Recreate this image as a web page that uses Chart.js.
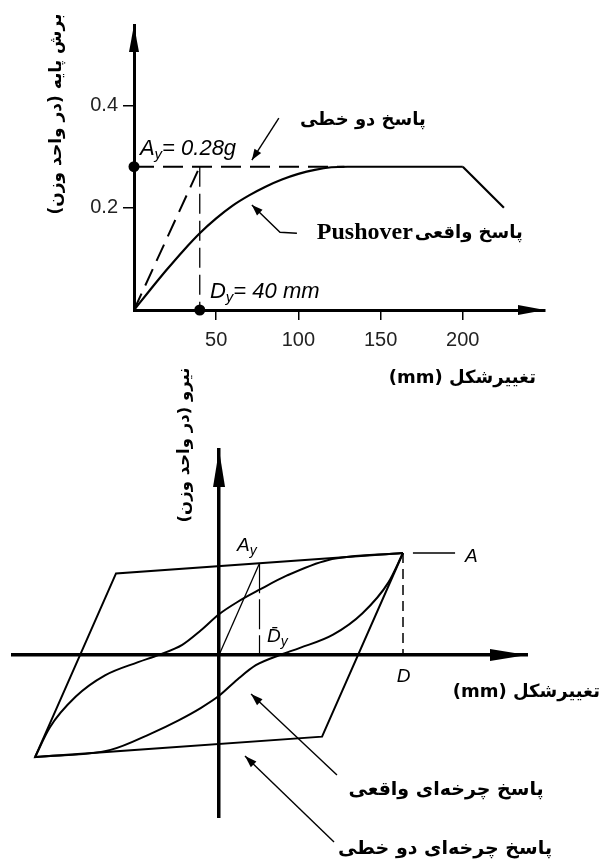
<!DOCTYPE html>
<html>
<head>
<meta charset="utf-8">
<script src="https://cdn.jsdelivr.net/npm/chart.js@4.4.1/dist/chart.umd.min.js"></script>
<style>
  html, body { margin: 0; padding: 0; background: #fff; }
  #wrap { position: relative; width: 603px; height: 862px; overflow: hidden; }
  canvas { position: absolute; left: 0; }
  #pushChart { top: 0; }
  #cycleChart { top: 350px; }
</style>
</head>
<body>
<div id="wrap">
  <canvas id="pushChart" width="603" height="400"></canvas>
  <canvas id="cycleChart" width="603" height="512"></canvas>
</div>
<script>
// ---- top chart: pushover curve (mm vs base shear / weight) ----
const pushDisp  = [0, 10, 20, 30, 40, 50, 60, 70, 80, 90, 100, 110, 120, 130, 200];
const pushShear = [0, 0.04, 0.079, 0.116, 0.15, 0.179, 0.204, 0.224, 0.241, 0.255, 0.266, 0.274, 0.279, 0.28, 0.28];
const dropDisp  = [200, 225];
const dropShear = [0.28, 0.2];
const yieldDisp = 40;      // D_y
const yieldShear = 0.28;   // A_y
const flatEnd = 128;       // dashed plateau runs until the curve joins it
const dispTicks = [50, 100, 150, 200];
const shearTicks = [0.2, 0.4];

// ---- bottom chart: cyclic response (schematic units, D = A = 100) ----
const loopDisp  = [100, 56, -100, -56, 100];
const loopForce = [100, -80, -100, 80, 100];
const upperDisp  = [-100, -92, -78, -62, -44, -33, -20, -10, 0, 10, 22, 37, 59, 100];
const upperForce = [-100, -71, -41, -20, -7, 0, 10, 24, 40, 52, 64, 78, 93, 100];
const lowerDisp  = [-100, -59, -37, -22, -10, 0, 10, 20, 33, 44, 62, 78, 92, 100];
const lowerForce = [-100, -93, -77, -64, -52, -40, -24, -10, 0, 7, 20, 41, 71, 100];
const cycYieldDisp = 22;
const cycYieldForce = 90;
const peakDisp = 100;
const peakForce = 100;

const FA = '"DejaVu Sans", sans-serif';
const SANS = '"Liberation Sans", Arial, sans-serif';

const zip = (xs, ys) => xs.map((x, i) => ({ x: x, y: ys[i] }));

function arrowHead(ctx, tx, ty, fx, fy, len, half) {
  const a = Math.atan2(ty - fy, tx - fx);
  const bx = tx - len * Math.cos(a), by = ty - len * Math.sin(a);
  ctx.beginPath();
  ctx.moveTo(tx, ty);
  ctx.lineTo(bx + half * Math.sin(a), by - half * Math.cos(a));
  ctx.lineTo(bx - half * Math.sin(a), by + half * Math.cos(a));
  ctx.closePath();
  ctx.fill();
}

function drawParts(ctx, x, y, parts) {
  let cx = x;
  parts.forEach(p => {
    ctx.font = p.font;
    ctx.fillText(p.text, cx, y + (p.dy || 0));
    cx += ctx.measureText(p.text).width;
  });
}

// draws axis arrowheads, leaders and the annotation texts
const sketch = {
  id: 'sketch',
  afterDraw(chart, args, opts) {
    const ctx = chart.ctx, xs = chart.scales.x, ys = chart.scales.y, area = chart.chartArea;
    const px = v => xs.getPixelForValue(v), py = v => ys.getPixelForValue(v);
    ctx.save();
    ctx.fillStyle = '#000';
    ctx.strokeStyle = '#000';

    const x0 = px(0), y0 = py(0);
    const ah = opts.axisHead;
    arrowHead(ctx, x0, area.top, x0, area.top + 10, ah.len, ah.half);
    arrowHead(ctx, area.right, y0, area.right - 10, y0, ah.len, ah.half);

    (opts.leaders || []).forEach(l => {
      const pts = l.pts.map(p => [px(p[0]), py(p[1])]);
      ctx.lineWidth = l.width;
      ctx.beginPath();
      pts.forEach((p, i) => i ? ctx.lineTo(p[0], p[1]) : ctx.moveTo(p[0], p[1]));
      ctx.stroke();
      const n = pts.length;
      if (l.head) arrowHead(ctx, pts[n - 1][0], pts[n - 1][1], pts[n - 2][0], pts[n - 2][1], l.head[0], l.head[1]);
    });

    (opts.texts || []).forEach(t => {
      const x = t.px ? t.x : px(t.x), y = t.px ? t.y : py(t.y);
      ctx.save();
      ctx.translate(x, y);
      if (t.rot) ctx.rotate(t.rot);
      ctx.direction = t.dir || 'ltr';
      ctx.textBaseline = t.base || 'middle';
      if (t.parts) {
        ctx.textAlign = 'left';
        drawParts(ctx, 0, 0, t.parts);
      } else {
        ctx.font = t.font;
        ctx.textAlign = t.align || 'center';
        ctx.fillText(t.text, 0, 0);
      }
      ctx.restore();
    });
    ctx.restore();
  }
};

const line = (data, extra) => Object.assign({
  data: data, showLine: true, borderColor: '#000', backgroundColor: '#000',
  borderWidth: 2.2, pointRadius: 0, pointHoverRadius: 0, tension: 0, clip: false
}, extra || {});

const baseOptions = {
  responsive: false,
  animation: false,
  devicePixelRatio: 1,
  plugins: { legend: { display: false }, tooltip: { enabled: false } }
};

// ---------------- top chart ----------------
new Chart(document.getElementById('pushChart'), {
  type: 'scatter',
  data: {
    datasets: [
      line(zip(pushDisp, pushShear), { cubicInterpolationMode: 'monotone' }),
      line(zip(dropDisp, dropShear)),
      line([{ x: 0, y: 0 }, { x: yieldDisp, y: yieldShear }], { borderDash: [18, 9], borderWidth: 2 }),
      line([{ x: 0, y: yieldShear }, { x: flatEnd, y: yieldShear }], { borderDash: [20, 9], borderWidth: 2 }),
      line([{ x: yieldDisp, y: yieldShear }, { x: yieldDisp, y: 0 }], { borderDash: [20, 7], borderWidth: 1.3 }),
      line([{ x: 0, y: yieldShear }, { x: yieldDisp, y: 0 }], { showLine: false, pointRadius: 5.5, borderWidth: 0 })
    ]
  },
  options: Object.assign({}, baseOptions, {
    layout: { padding: { left: 0, right: 58, top: 25, bottom: 0 } },
    scales: {
      x: {
        type: 'linear', min: 0, max: 250,
        afterFit: s => { s.height = 90; },
        afterBuildTicks: s => { s.ticks = dispTicks.map(v => ({ value: v })); },
        ticks: { font: { family: SANS, size: 20 }, color: '#222', padding: 8, callback: v => String(v) },
        grid: { drawOnChartArea: false, drawTicks: true, tickLength: 10, color: '#000', lineWidth: 1.5 },
        border: { display: true, color: '#000', width: 3 }
      },
      y: {
        type: 'linear', min: 0, max: 0.557,
        afterFit: s => { s.width = 134; },
        afterBuildTicks: s => { s.ticks = shearTicks.map(v => ({ value: v })); },
        ticks: { font: { family: SANS, size: 20 }, color: '#222', padding: 5, callback: v => v.toFixed(1) },
        grid: { drawOnChartArea: false, drawTicks: true, tickLength: 11, color: '#000', lineWidth: 1.5 },
        border: { display: true, color: '#000', width: 3 }
      }
    },
    plugins: Object.assign({}, baseOptions.plugins, {
      sketch: {
        axisHead: { len: 27, half: 5 },
        leaders: [
          { pts: [[88.1, 0.375], [71.7, 0.293]], width: 1.4, head: [11, 4] },
          { pts: [[99.1, 0.150], [88.8, 0.152], [71.7, 0.205]], width: 1.4, head: [11, 4] }
        ],
        texts: [
          { px: true, x: 57, y: 114, rot: -Math.PI / 2, dir: 'rtl', font: 'bold 17px ' + FA, text: 'برش پایه (در واحد وزن)' },
          { px: true, x: 536, y: 378, align: 'right', font: 'bold 18px ' + FA, text: '(mm) تغییرشکل' },
          { x: 139.2, y: 0.371, dir: 'rtl', font: 'bold 18px ' + FA, text: 'پاسخ دو خطی' },
          { x: 236.5, y: 0.150, dir: 'rtl', align: 'right', font: 'bold 18px ' + FA, text: 'پاسخ واقعی' },
          { x: 169.6, y: 0.150, align: 'right', font: 'bold 24px "Liberation Serif", serif', text: 'Pushover' },
          { x: 3.6, y: 0.303, base: 'alphabetic', parts: [
            { text: 'A', font: 'italic 22px ' + SANS },
            { text: 'y', font: 'italic 15px ' + SANS, dy: 4 },
            { text: '= 0.28g', font: 'italic 22px ' + SANS }
          ] },
          { x: 46.2, y: 0.0234, base: 'alphabetic', parts: [
            { text: 'D', font: 'italic 22px ' + SANS },
            { text: 'y', font: 'italic 15px ' + SANS, dy: 4 },
            { text: '= 40 mm', font: 'italic 22px ' + SANS }
          ] }
        ]
      }
    })
  }),
  plugins: [sketch]
});

// ---------------- bottom chart ----------------
new Chart(document.getElementById('cycleChart'), {
  type: 'scatter',
  data: {
    datasets: [
      line(zip(loopDisp, loopForce), { borderWidth: 2 }),
      line(zip(upperDisp, upperForce), { borderWidth: 2, cubicInterpolationMode: 'monotone' }),
      line(zip(lowerDisp, lowerForce), { borderWidth: 2, cubicInterpolationMode: 'monotone' }),
      line([{ x: 0, y: 0 }, { x: cycYieldDisp, y: cycYieldForce }], { borderWidth: 1.3 }),
      line([{ x: cycYieldDisp, y: cycYieldForce }, { x: cycYieldDisp, y: 0 }], { borderWidth: 1.2, borderDash: [30, 6] }),
      line([{ x: peakDisp, y: peakForce }, { x: peakDisp, y: 0 }], { borderWidth: 1.5, borderDash: [10, 6] })
    ]
  },
  options: Object.assign({}, baseOptions, {
    layout: { padding: { left: 13, right: 76, top: 100, bottom: 45 } },
    scales: {
      x: {
        type: 'linear', min: -112, max: 167.4, position: { y: 0 },
        afterFit: s => { s.height = 0; },
        ticks: { display: false },
        grid: { display: false },
        border: { display: true, color: '#000', width: 3.5 }
      },
      y: {
        type: 'linear', min: -158.8, max: 201, position: { x: 0 },
        afterFit: s => { s.width = 0; },
        ticks: { display: false },
        grid: { display: false },
        border: { display: true, color: '#000', width: 3.5 }
      }
    },
    plugins: Object.assign({}, baseOptions.plugins, {
      sketch: {
        axisHead: { len: 37, half: 6 },
        leaders: [
          { pts: [[105.4, 100], [128.3, 100]], width: 1.5 },
          { pts: [[64.1, -117.6], [17.4, -38.2]], width: 1.4, head: [12, 4] },
          { pts: [[62.5, -183.3], [14.1, -99]], width: 1.4, head: [12, 4] }
        ],
        texts: [
          { px: true, x: 185, y: 95, rot: -Math.PI / 2, dir: 'rtl', font: 'bold 16.5px ' + FA, text: 'نیرو (در واحد وزن)' },
          { px: true, x: 600, y: 342, align: 'right', font: 'bold 18px ' + FA, text: '(mm) تغییرشکل' },
          { x: 123.4, y: -132.4, dir: 'rtl', font: 'bold 19px ' + FA, text: 'پاسخ چرخه‌ای واقعی' },
          { x: 122.8, y: -190.2, dir: 'rtl', font: 'bold 19px ' + FA, text: 'پاسخ چرخه‌ای دو خطی' },
          { x: 9.8, y: 102, base: 'alphabetic', parts: [
            { text: 'A', font: 'italic 19px ' + SANS },
            { text: 'y', font: 'italic 14px ' + SANS, dy: 4 }
          ] },
          { x: 26.1, y: 12.7, base: 'alphabetic', parts: [
            { text: 'D\u0304', font: 'italic 19px ' + SANS },
            { text: 'y', font: 'italic 14px ' + SANS, dy: 4 }
          ] },
          { x: 100.3, y: -26.5, base: 'alphabetic', font: 'italic 19px ' + SANS, text: 'D' },
          { x: 133.7, y: 91.2, base: 'alphabetic', align: 'left', font: 'italic 19px ' + SANS, text: 'A' }
        ]
      }
    })
  }),
  plugins: [sketch]
});
</script>
</body>
</html>
